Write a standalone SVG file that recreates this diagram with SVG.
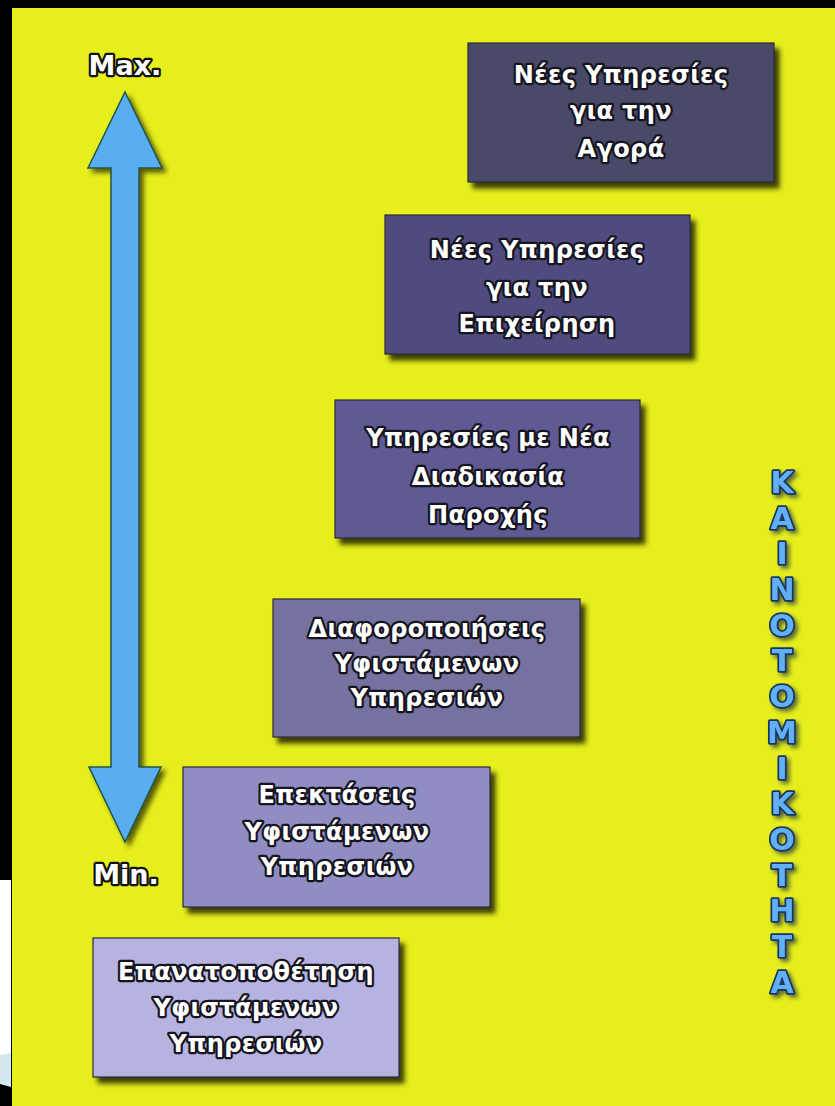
<svg xmlns="http://www.w3.org/2000/svg" width="835" height="1106" viewBox="0 0 835 1106">
  <defs>
    <filter id="boxShadow" x="-10%" y="-10%" width="125%" height="130%">
      <feDropShadow dx="5" dy="6" stdDeviation="2.5" flood-color="#1c1a00" flood-opacity="0.85"/>
    </filter>
    <filter id="arrowShadow" x="-30%" y="-10%" width="160%" height="120%">
      <feDropShadow dx="4" dy="4" stdDeviation="2.5" flood-color="#2a2a00" flood-opacity="0.75"/>
    </filter>
    <filter id="letterShadow" x="-40%" y="-40%" width="180%" height="180%">
      <feDropShadow dx="3" dy="3" stdDeviation="2" flood-color="#203040" flood-opacity="0.7"/>
    </filter>
  </defs>
  <style>
    .box { stroke: #2b2a3c; stroke-width: 1.2; filter: url(#boxShadow); }
    .label { font-family: "DejaVu Sans", "Liberation Sans", sans-serif; font-weight: bold; font-size: 24px; letter-spacing: 0.4px; fill: #ffffff; stroke: #15141f; stroke-width: 4.5; stroke-linejoin: round; paint-order: stroke; text-anchor: middle; }
    .scale { font-family: "DejaVu Sans", "Liberation Sans", sans-serif; font-weight: bold; font-size: 27px; fill: #ffffff; stroke: #111111; stroke-width: 4.5; stroke-linejoin: round; paint-order: stroke; text-anchor: middle; }
    .vert { font-family: "DejaVu Sans", "Liberation Sans", sans-serif; font-weight: bold; font-size: 30px; fill: #62b0f4; stroke: #1c3660; stroke-width: 3.5; stroke-linejoin: round; paint-order: stroke; text-anchor: middle; filter: url(#letterShadow); }
  </style>

  <!-- frame / background -->
  <rect x="0" y="0" width="835" height="1106" fill="#000000"/>
  <rect x="12" y="8" width="823" height="1098" fill="#e6ef1c"/>
  <rect x="0" y="880" width="11" height="178" fill="#ffffff"/>
  <polygon points="0,1055 11,1053 11,1087 0,1084" fill="#d4e6ee"/>

  <!-- scale arrow -->
  <g id="scale-arrow">
    <polygon points="125,92 162,168 139,168 139,767 161,767 125,842 89,767 111,767 111,168 88,168" fill="#58aef0" stroke="#1f5648" stroke-width="1.5" stroke-linejoin="miter" filter="url(#arrowShadow)"/>
  </g>
  <g id="label-max"><text class="scale" x="125" y="75">Max.</text></g>
  <g id="label-min"><text class="scale" x="126" y="884">Min.</text></g>

  <g id="connectors"></g>

  <!-- boxes -->
  <g id="box1">
    <rect class="box" x="468" y="43" width="306" height="139" fill="#4a4868"/>
    <text class="label" x="621" y="83">Νέες Υπηρεσίες</text>
    <text class="label" x="621" y="119">για την</text>
    <text class="label" x="621" y="157">Αγορά</text>
  </g>
  <g id="box2">
    <rect class="box" x="385" y="215" width="305" height="139" fill="#4f4c7e"/>
    <text class="label" x="537" y="258">Νέες Υπηρεσίες</text>
    <text class="label" x="537" y="296">για την</text>
    <text class="label" x="537" y="332">Επιχείρηση</text>
  </g>
  <g id="box3">
    <rect class="box" x="335" y="400" width="305" height="138" fill="#5e5a94"/>
    <text class="label" x="488" y="446">Υπηρεσίες με Νέα</text>
    <text class="label" x="488" y="485">Διαδικασία</text>
    <text class="label" x="488" y="523">Παροχής</text>
  </g>
  <g id="box4">
    <rect class="box" x="273" y="599" width="307" height="138" fill="#75729f"/>
    <text class="label" x="427" y="637">Διαφοροποιήσεις</text>
    <text class="label" x="427" y="672">Υφιστάμενων</text>
    <text class="label" x="427" y="706">Υπηρεσιών</text>
  </g>
  <g id="box5">
    <rect class="box" x="183" y="767" width="307" height="140" fill="#908dc2"/>
    <text class="label" x="337" y="803">Επεκτάσεις</text>
    <text class="label" x="337" y="840">Υφιστάμενων</text>
    <text class="label" x="337" y="875">Υπηρεσιών</text>
  </g>
  <g id="box6">
    <rect class="box" x="93" y="938" width="306" height="139" fill="#b6b3e0"/>
    <text class="label" x="246" y="980">Επανατοποθέτηση</text>
    <text class="label" x="246" y="1016">Υφιστάμενων</text>
    <text class="label" x="246" y="1052">Υπηρεσιών</text>
  </g>

  <!-- vertical word -->
  <g id="vertical-label">
    <text class="vert" x="782" y="493">Κ</text>
    <text class="vert" x="782" y="529">Α</text>
    <text class="vert" x="782" y="564">Ι</text>
    <text class="vert" x="782" y="600">Ν</text>
    <text class="vert" x="782" y="636">Ο</text>
    <text class="vert" x="782" y="671">Τ</text>
    <text class="vert" x="782" y="707">Ο</text>
    <text class="vert" x="782" y="743">Μ</text>
    <text class="vert" x="782" y="779">Ι</text>
    <text class="vert" x="782" y="814">Κ</text>
    <text class="vert" x="782" y="850">Ο</text>
    <text class="vert" x="782" y="886">Τ</text>
    <text class="vert" x="782" y="921">Η</text>
    <text class="vert" x="782" y="957">Τ</text>
    <text class="vert" x="782" y="993">Α</text>
  </g>
</svg>
